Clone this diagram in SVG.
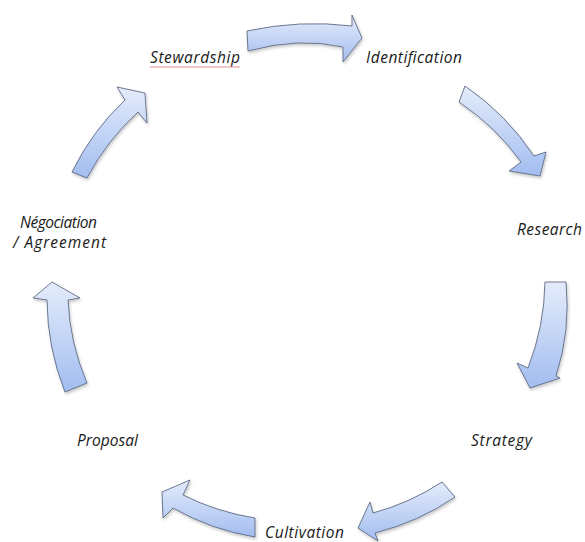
<svg xmlns="http://www.w3.org/2000/svg" width="585" height="542" viewBox="0 0 585 542">
<style>
.arrow{fill:url(#g);stroke:#5d6b85;stroke-width:0.9;stroke-linejoin:miter;filter:url(#sh)}
.lbl{font-family:"Open Sans","Liberation Sans",Arial,sans-serif;font-style:italic;font-size:15.5px;fill:#1a1a1a}
</style>
<defs>
<linearGradient id="g" x1="0" y1="0" x2="0" y2="1">
<stop offset="0" stop-color="#e4ecfb"/>
<stop offset="1" stop-color="#a3bdf0"/>
</linearGradient>
<filter id="sh" x="-20%" y="-20%" width="140%" height="140%">
<feDropShadow dx="1" dy="2" stdDeviation="1.8" flood-color="#000" flood-opacity="0.22"/>
</filter>
</defs>
<rect width="585" height="542" fill="#ffffff"/>
<g id="connectors">
<path class="arrow" d="M247,31 Q300,19.5 352,26 L352,15 L362,38 L343,62 L343,47 Q298.5,37 248,51 Z"/>
<path class="arrow" d="M465,86 Q506.8,114.8 534,156 L546,152 L540,176 L509,171 L521,162 Q496,127 459,102 Z"/>
<path class="arrow" d="M566,282 Q570.8,330.7 556,376 L560,378 L530,388 L517,363 L528,368 Q544.4,326 545,282 Z"/>
<path class="arrow" d="M442,482 Q410.4,502.8 373,513 L370,502 L358,528 L378,541 L375,533 Q418.7,521.9 455,497 Z"/>
<path class="arrow" d="M255,518 Q217,512 183,495 L190,480 L162,492 L163,518 L173,508 Q211.4,529.9 255,537 Z"/>
<path class="arrow" d="M87,383 Q69.9,343.1 68,300 L80,298 L52,282 L33,298 L47,300 Q47.4,347.8 65,392 Z"/>
<path class="arrow" d="M72,172 Q92.1,130.9 125,100 L117,87 L145,93 L147,123 L138,112 Q106.9,140.5 87,178 Z"/>
</g>
<g id="stewardship">
<text class="lbl" x="150" y="63" textLength="90">Stewardship</text>
<line x1="150" y1="67" x2="240" y2="67" stroke="#e89090" stroke-width="1"/>
</g>
<g id="identification"><text class="lbl" x="366" y="63" textLength="96">Identification</text></g>
<g id="research"><text class="lbl" x="517" y="235" textLength="65">Research</text></g>
<g id="strategy"><text class="lbl" x="471" y="446" textLength="61">Strategy</text></g>
<g id="cultivation"><text class="lbl" x="265" y="538" textLength="79">Cultivation</text></g>
<g id="proposal"><text class="lbl" x="77" y="446" textLength="61">Proposal</text></g>
<g id="negociation">
<text class="lbl" x="20" y="228" textLength="77">Négociation</text>
<text class="lbl" x="13" y="248" textLength="93">/ Agreement</text>
</g>
</svg>
